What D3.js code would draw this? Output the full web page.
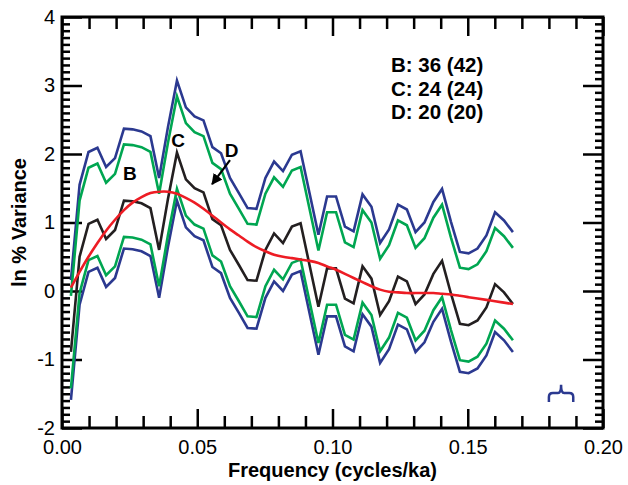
<!DOCTYPE html>
<html>
<head>
<meta charset="utf-8">
<script src="https://cdn.jsdelivr.net/npm/d3@7"></script>
<style>
body { margin: 0; background: #fff; }
svg { display: block; font-family: "Liberation Sans", Arial, Helvetica, sans-serif; }
</style>
</head>
<body>
<svg id="chart"></svg>
<script>
// frequencies (cycles/ka)
const freq = [0.0033, 0.0065, 0.0098, 0.0131, 0.0163, 0.0196, 0.0229, 0.0261, 0.0294, 0.0327,
    0.0359, 0.0392, 0.0425, 0.0458, 0.0490, 0.0523, 0.0556, 0.0588, 0.0621, 0.0654,
    0.0686, 0.0719, 0.0752, 0.0784, 0.0817, 0.0850, 0.0882, 0.0915, 0.0948, 0.0980,
    0.1013, 0.1046, 0.1078, 0.1111, 0.1144, 0.1176, 0.1209, 0.1242, 0.1275, 0.1307,
    0.1340, 0.1373, 0.1405, 0.1438, 0.1471, 0.1503, 0.1536, 0.1569, 0.1601, 0.1634, 0.1667];

// ln % variance spectrum
const spectrum = [-0.89, 0.50, 0.98, 1.04, 0.76, 0.89, 1.32, 1.31, 1.28, 1.21,
    0.60, 1.35, 2.02, 1.63, 1.50, 1.44, 1.05, 0.96, 0.60, 0.38,
    0.16, 0.15, 0.60, 0.84, 0.70, 0.94, 0.99, 0.38, -0.23, 0.33,
    0.33, -0.11, -0.18, 0.36, 0.18, -0.35, -0.15, 0.21, 0.14, -0.19,
    -0.05, 0.25, 0.44, -0.04, -0.48, -0.50, -0.43, -0.24, 0.10, -0.02, -0.19];

const upper99 = [0.16, 1.55, 2.03, 2.09, 1.81, 1.94, 2.37, 2.36, 2.33, 2.26,
    1.65, 2.40, 3.07, 2.68, 2.55, 2.49, 2.10, 2.01, 1.65, 1.43,
    1.21, 1.20, 1.65, 1.89, 1.75, 1.99, 2.04, 1.43, 0.82, 1.38,
    1.38, 0.94, 0.87, 1.41, 1.23, 0.70, 0.90, 1.26, 1.19, 0.86,
    1.00, 1.30, 1.49, 1.01, 0.57, 0.55, 0.62, 0.81, 1.15, 1.03, 0.86];

const upper95 = [-0.07, 1.32, 1.80, 1.86, 1.58, 1.71, 2.14, 2.13, 2.10, 2.03,
    1.42, 2.17, 2.84, 2.45, 2.32, 2.26, 1.87, 1.78, 1.42, 1.20,
    0.98, 0.97, 1.42, 1.66, 1.52, 1.76, 1.81, 1.20, 0.59, 1.15,
    1.15, 0.71, 0.64, 1.18, 1.00, 0.47, 0.67, 1.03, 0.96, 0.63,
    0.77, 1.07, 1.26, 0.78, 0.34, 0.32, 0.39, 0.58, 0.92, 0.80, 0.63];

const lower95 = [-1.42, -0.03, 0.45, 0.51, 0.23, 0.36, 0.79, 0.78, 0.75, 0.68,
    0.07, 0.82, 1.49, 1.10, 0.97, 0.91, 0.52, 0.43, 0.07, -0.15,
    -0.37, -0.38, 0.07, 0.31, 0.17, 0.41, 0.46, -0.15, -0.76, -0.20,
    -0.20, -0.64, -0.71, -0.17, -0.35, -0.88, -0.68, -0.32, -0.39, -0.72,
    -0.58, -0.28, -0.09, -0.57, -1.01, -1.03, -0.96, -0.77, -0.43, -0.55, -0.72];

const lower99 = [-1.59, -0.20, 0.28, 0.34, 0.06, 0.19, 0.62, 0.61, 0.58, 0.51,
    -0.10, 0.65, 1.32, 0.93, 0.80, 0.74, 0.35, 0.26, -0.10, -0.32,
    -0.54, -0.55, -0.10, 0.14, 0.00, 0.24, 0.29, -0.32, -0.93, -0.37,
    -0.37, -0.81, -0.88, -0.34, -0.52, -1.05, -0.85, -0.49, -0.56, -0.89,
    -0.75, -0.45, -0.26, -0.74, -1.18, -1.20, -1.13, -0.94, -0.60, -0.72, -0.89];

// red background (red-noise) fit
const background = [0.05, 0.28, 0.50, 0.70, 0.88, 1.04, 1.18, 1.29, 1.37, 1.43,
    1.45, 1.45, 1.42, 1.36, 1.29, 1.20, 1.10, 1.00, 0.90, 0.81,
    0.72, 0.64, 0.58, 0.53, 0.50, 0.48, 0.46, 0.44, 0.41, 0.36,
    0.31, 0.25, 0.19, 0.13, 0.07, 0.02, -0.01, -0.02, -0.03, -0.03,
    -0.03, -0.03, -0.04, -0.05, -0.07, -0.09, -0.11, -0.13, -0.15, -0.17, -0.19];

const legendLines = ["B: 36 (42)", "C: 24 (24)", "D: 20 (20)"];
const xTickVals = d3.range(0, 21).map(i => i / 100);
const yTickVals = d3.range(-20, 41).map(i => i / 10);

const blue = "#2b3990", green = "#00a651", black = "#231f20", red = "#ed1c24";

const margin = {top: 17, right: 25, bottom: 57, left: 62},
    width = 628 - margin.left - margin.right,
    height = 485 - margin.top - margin.bottom;

const svgRoot = d3.select("#chart").attr("width", 628).attr("height", 485);
const svg = svgRoot.append("g")
    .attr("transform", "translate(" + margin.left + "," + margin.top + ")");

const x = d3.scaleLinear().domain([0, 0.2]).range([0, width]);
const y = d3.scaleLinear().domain([-2, 4]).range([height, 0]);

const isMajorX = d => Math.abs(d * 20 - Math.round(d * 20)) < 1e-6;
const isMajorY = d => Math.abs(d - Math.round(d)) < 1e-6;

function styleAxis(g, majorFn, minorLen, majorLen, dir) {
    g.select(".domain").remove();
    g.selectAll(".tick line")
        .attr("stroke", "#000")
        .attr("stroke-width", 2.5)
        .each(function (d) {
            const len = (majorFn(d) ? majorLen : minorLen) * dir.s;
            d3.select(this).attr(dir.attr, len);
        });
    g.selectAll(".tick text")
        .attr("fill", "#000")
        .style("font-size", "20px");
}

// bottom
svg.append("g")
    .attr("transform", "translate(0," + height + ")")
    .call(d3.axisBottom(x).tickValues(xTickVals).tickSize(-12).tickPadding(12)
        .tickFormat(d => isMajorX(d) ? d3.format(".2f")(d) : ""))
    .call(g => styleAxis(g, isMajorX, 12, 19, {attr: "y2", s: -1}));
// top
svg.append("g")
    .call(d3.axisTop(x).tickValues(xTickVals).tickSize(-12).tickFormat(""))
    .call(g => styleAxis(g, isMajorX, 12, 19, {attr: "y2", s: 1}));
// left
svg.append("g")
    .call(d3.axisLeft(y).tickValues(yTickVals).tickSize(-8).tickPadding(7)
        .tickFormat(d => isMajorY(d) ? String(Math.round(d)) : ""))
    .call(g => styleAxis(g, isMajorY, 8, 20, {attr: "x2", s: 1}));
// right
svg.append("g")
    .attr("transform", "translate(" + width + ",0)")
    .call(d3.axisRight(y).tickValues(yTickVals).tickSize(-8).tickFormat(""))
    .call(g => styleAxis(g, isMajorY, 8, 20, {attr: "x2", s: -1}));

// frame
svg.append("rect")
    .attr("width", width).attr("height", height)
    .attr("fill", "none").attr("stroke", "#000").attr("stroke-width", 3);

const line = d3.line()
    .x((d, i) => x(freq[i]))
    .y(d => y(d));

const series = [
    {v: upper99, c: blue}, {v: lower99, c: blue},
    {v: upper95, c: green}, {v: lower95, c: green},
    {v: spectrum, c: black}
];

svg.selectAll(".series")
    .data(series)
    .enter().append("path")
    .attr("class", "series")
    .attr("d", d => line(d.v))
    .attr("fill", "none")
    .attr("stroke", d => d.c)
    .attr("stroke-width", 2.6)
    .attr("stroke-linejoin", "miter");

svg.append("path")
    .attr("d", d3.line().x((d, i) => x(freq[i])).y(d => y(d)).curve(d3.curveNatural)(background))
    .attr("fill", "none")
    .attr("stroke", red)
    .attr("stroke-width", 2.6);

// peak labels
const labels = [
    {t: "B", f: 0.0251, v: 1.62},
    {t: "C", f: 0.0429, v: 2.10},
    {t: "D", f: 0.0627, v: 1.96}
];
svg.selectAll(".peak")
    .data(labels)
    .enter().append("text")
    .attr("class", "peak")
    .attr("x", d => x(d.f))
    .attr("y", d => y(d.v))
    .attr("text-anchor", "middle")
    .style("font-size", "19px")
    .style("font-weight", "bold")
    .text(d => d.t);

svgRoot.append("defs").append("marker")
    .attr("id", "arrow")
    .attr("viewBox", "0 0 10 10")
    .attr("refX", 9).attr("refY", 5)
    .attr("markerWidth", 5).attr("markerHeight", 5)
    .attr("orient", "auto")
    .append("path").attr("d", "M0,0 L10,5 L0,10 Z").attr("fill", "#000");

svg.append("line")
    .attr("x1", x(0.0621)).attr("y1", y(1.91))
    .attr("x2", x(0.0555)).attr("y2", y(1.56))
    .attr("stroke", "#000").attr("stroke-width", 2.2)
    .attr("marker-end", "url(#arrow)");

// legend
svg.selectAll(".legend")
    .data(legendLines)
    .enter().append("text")
    .attr("class", "legend")
    .attr("x", 391 - margin.left)
    .attr("y", (d, i) => 72 - margin.top + i * 23.5)
    .style("font-size", "20.5px")
    .style("font-weight", "bold")
    .text(d => d);

// bandwidth bracket
const bc = 0.1845, bh = 0.0045;
const bx0 = x(bc - bh), bx1 = x(bc + bh), bxc = x(bc);
const byTip = y(-1.37), byBar = y(-1.49), byFoot = y(-1.62);
svg.append("path")
    .attr("d", "M" + bx0 + "," + byFoot + " L" + bx0 + "," + (byBar + 4) +
        " Q" + bx0 + "," + byBar + " " + (bx0 + 4) + "," + byBar +
        " L" + (bxc - 3) + "," + byBar +
        " Q" + bxc + "," + byBar + " " + bxc + "," + byTip +
        " Q" + bxc + "," + byBar + " " + (bxc + 3) + "," + byBar +
        " L" + (bx1 - 4) + "," + byBar +
        " Q" + bx1 + "," + byBar + " " + bx1 + "," + (byBar + 4) +
        " L" + bx1 + "," + byFoot)
    .attr("fill", "none")
    .attr("stroke", blue)
    .attr("stroke-width", 2.5);

// axis titles
svg.append("text")
    .attr("x", width / 2)
    .attr("y", 477 - margin.top)
    .attr("text-anchor", "middle")
    .style("font-size", "20px")
    .style("font-weight", "bold")
    .text("Frequency (cycles/ka)");

svg.append("text")
    .attr("transform", "translate(" + (26 - margin.left) + "," + (height / 2) + ") rotate(-90)")
    .attr("text-anchor", "middle")
    .style("font-size", "20px")
    .style("font-weight", "bold")
    .text("ln % Variance");
</script>
</body>
</html>
